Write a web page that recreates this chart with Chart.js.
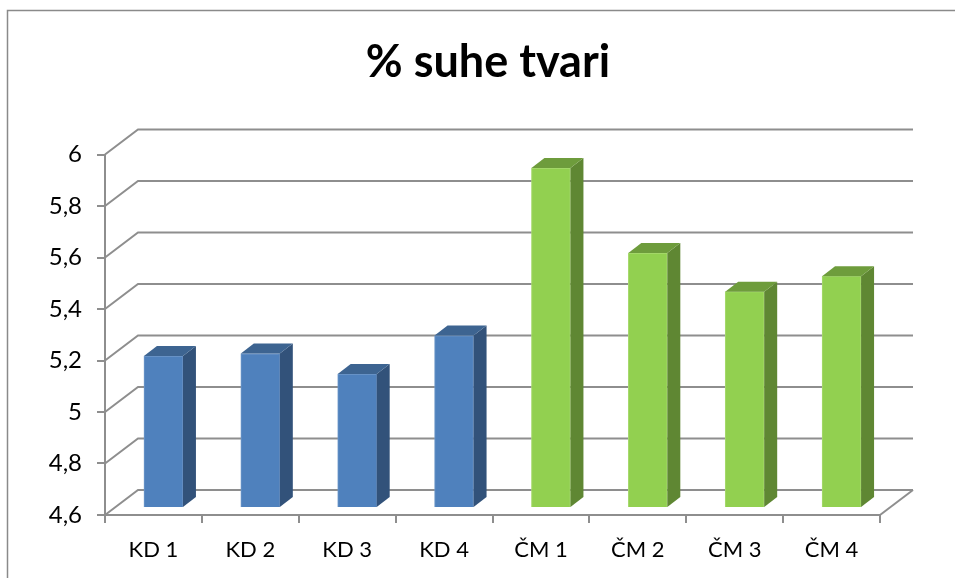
<!DOCTYPE html>
<html>
<head>
<meta charset="utf-8">
<title>% suhe tvari</title>
<script src="https://cdn.jsdelivr.net/npm/chart.js@4"></script>
<style>
    html, body { margin: 0; padding: 0; background: #fff; }
    canvas { display: block; }
</style>
</head>
<body>
<canvas id="chart" width="955" height="578"></canvas>
<script>
const categories = ['KD 1', 'KD 2', 'KD 3', 'KD 4', 'ČM 1', 'ČM 2', 'ČM 3', 'ČM 4'];
const values = [5.19, 5.2, 5.12, 5.27, 5.92, 5.59, 5.44, 5.5];
const frontColors = ['#4f81bd', '#4f81bd', '#4f81bd', '#4f81bd', '#92d050', '#92d050', '#92d050', '#92d050'];
const edgeColors = ['#6f98ca', '#6f98ca', '#6f98ca', '#6f98ca', '#a8da70', '#a8da70', '#a8da70', '#a8da70'];
const sideColors = ['#32527a', '#32527a', '#32527a', '#32527a', '#5f8733', '#5f8733', '#5f8733', '#5f8733'];
const topColors = ['#3d6491', '#3d6491', '#3d6491', '#3d6491', '#6e9c3c', '#6e9c3c', '#6e9c3c', '#6e9c3c'];

const axisColor = '#8e8e8e';
const wall = { dx: 33, dy: 25 };
const barShift = { dx: 10, dy: 7 };
const barDepth = { dx: 13, dy: 10 };
const titleShift = 48;

function strokeLine(ctx, pts) {
    ctx.beginPath();
    pts.forEach((p, i) => i ? ctx.lineTo(p[0], p[1]) : ctx.moveTo(p[0], p[1]));
    ctx.stroke();
}

function fillPoly(ctx, pts, color) {
    ctx.beginPath();
    pts.forEach((p, i) => i ? ctx.lineTo(p[0], p[1]) : ctx.moveTo(p[0], p[1]));
    ctx.closePath();
    ctx.fillStyle = color;
    ctx.fill();
}

// outer frame of the pasted picture, title moved over the plot
const framePlugin = {
    id: 'frame',
    afterLayout(chart) {
        chart.titleBlock.left += titleShift;
        chart.titleBlock.right += titleShift;
    },
    beforeDraw(chart) {
        const ctx = chart.ctx;
        ctx.save();
        ctx.strokeStyle = '#8a8a8a';
        ctx.lineWidth = 1.5;
        strokeLine(ctx, [[7.5, 578], [7.5, 10.5], [955, 10.5]]);
        ctx.restore();
    }
};

const box3dPlugin = {
    id: 'box3d',
    beforeDatasetsDraw(chart) {
        const ctx = chart.ctx;
        const a = chart.chartArea;
        const y = chart.scales.y;

        // back wall lines and floor
        ctx.save();
        ctx.strokeStyle = axisColor;
        ctx.lineWidth = 2;
        y.ticks.forEach(t => {
            const py = y.getPixelForValue(t.value);
            strokeLine(ctx, [[a.left, py], [a.left + wall.dx, py - wall.dy], [a.right + wall.dx, py - wall.dy]]);
        });
        strokeLine(ctx, [[a.right, a.bottom], [a.right + wall.dx, a.bottom - wall.dy]]);
        ctx.restore();

        // bars stand in the middle of the floor depth
        ctx.save();
        ctx.translate(barShift.dx, -barShift.dy);
    },
    afterDatasetsDraw(chart) {
        const ctx = chart.ctx;
        chart.getDatasetMeta(0).data.forEach((bar, i) => {
            const p = bar.getProps(['x', 'y', 'base', 'width'], true);
            const l = p.x - p.width / 2;
            const r = p.x + p.width / 2;
            const dx = barDepth.dx;
            const dy = barDepth.dy;
            fillPoly(ctx, [[r, p.y], [r + dx, p.y - dy], [r + dx, p.base - dy], [r, p.base]], sideColors[i]);
            fillPoly(ctx, [[l, p.y], [l + dx, p.y - dy], [r + dx, p.y - dy], [r, p.y]], topColors[i]);
        });
        ctx.restore();
    }
};

new Chart(document.getElementById('chart'), {
    type: 'bar',
    data: {
        labels: categories,
        datasets: [{
            data: values,
            base: 4.6,
            backgroundColor: frontColors,
            borderColor: edgeColors,
            borderWidth: 1,
            barThickness: 39,
            clip: false
        }]
    },
    options: {
        responsive: false,
        animation: false,
        layout: { padding: { right: 75 } },
        plugins: {
            legend: { display: false },
            tooltip: { enabled: false },
            title: {
                display: true,
                text: '% suhe tvari',
                color: '#000',
                font: { family: 'Lato', size: 45, weight: 'bold', lineHeight: 1.2 },
                padding: { top: 35, bottom: 65.5 }
            }
        },
        scales: {
            x: {
                afterFit: s => { s.height = 63; },
                grid: { color: axisColor, lineWidth: 2, tickLength: 8, drawOnChartArea: false },
                border: { color: axisColor, width: 2 },
                ticks: {
                    color: '#000',
                    font: { family: 'Lato', size: 22 },
                    padding: 14,
                    maxRotation: 0
                }
            },
            y: {
                min: 4.6,
                max: 6,
                afterFit: s => { s.width = 105; },
                grid: { color: axisColor, lineWidth: 2, tickLength: 8, drawOnChartArea: false },
                border: { color: axisColor, width: 2 },
                ticks: {
                    stepSize: 0.2,
                    color: '#000',
                    font: { family: 'Lato', size: 24 },
                    padding: 15,
                    callback: v => String(Number(v.toFixed(1))).replace('.', ',')
                }
            }
        }
    },
    plugins: [framePlugin, box3dPlugin]
});
</script>
</body>
</html>
